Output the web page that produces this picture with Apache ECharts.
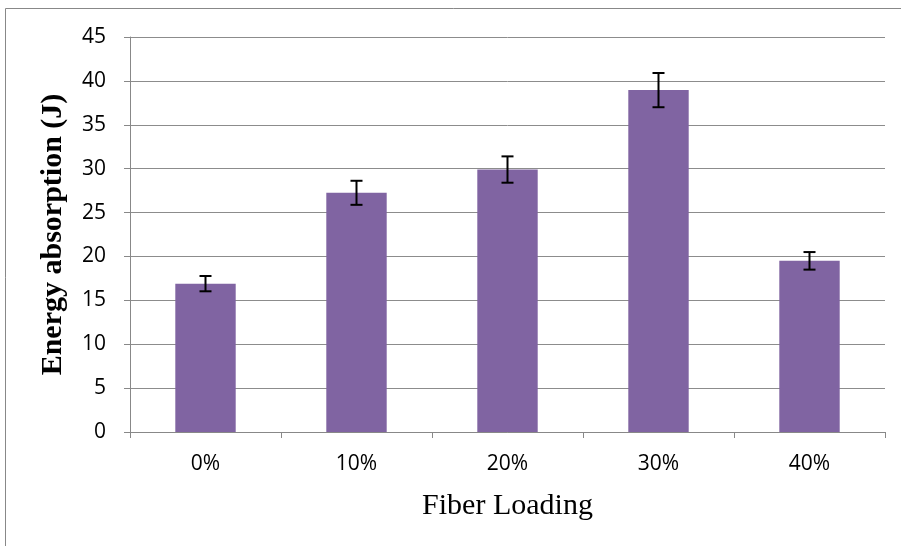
<!DOCTYPE html>
<html><head><meta charset="utf-8">
<script src="https://cdn.jsdelivr.net/npm/echarts@6/dist/echarts.min.js"></script>
<style>html,body{margin:0;padding:0;background:#fff}#c{width:901px;height:546px}</style>
</head><body><div id="c"></div>
<script>
const categories = ['0%', '10%', '20%', '30%', '40%'];
const values = [16.9, 27.25, 29.9, 38.95, 19.5];
const errors = [0.87, 1.37, 1.5, 1.95, 1.0];
const yTicks = [0, 5, 10, 15, 20, 25, 30, 35, 40, 45];

const chart = echarts.init(document.getElementById('c'));
const errData = categories.map((c, i) => [i, values[i] - errors[i], values[i] + errors[i]]);
chart.setOption({
  animation: false,
  graphic: [{type: 'polyline', shape: {points: [[5.5, 546], [5.5, 8.5], [901, 8.5]]}, style: {stroke: '#888', lineWidth: 1, fill: null}}],
  grid: {left: 130, right: 16, top: 37, bottom: 114},
  xAxis: {
    type: 'category', data: categories,
    name: 'Fiber Loading', nameLocation: 'middle', nameGap: 59,
    nameTextStyle: {fontFamily: 'Liberation Serif', fontSize: 30, color: '#000', verticalAlign: 'top'},
    axisLine: {lineStyle: {color: '#888'}},
    axisTick: {show: true, length: 6, lineStyle: {color: '#888'}},
    axisLabel: {fontFamily: 'Open Sans', fontSize: 21, color: '#000', margin: 22}
  },
  yAxis: {
    type: 'value', min: 0, max: 45, interval: 5,
    name: 'Energy absorption (J)', nameLocation: 'middle', nameGap: 62, nameRotate: 90,
    nameTextStyle: {fontFamily: 'Liberation Serif', fontSize: 30, fontWeight: 'bold', color: '#000'},
    axisLine: {show: true, lineStyle: {color: '#888'}},
    axisTick: {show: true, length: 6, lineStyle: {color: '#888'}},
    splitLine: {lineStyle: {color: '#8c8c8c'}},
    axisLabel: {fontFamily: 'Open Sans', fontSize: 21, color: '#000', margin: 24,
      formatter: v => yTicks.includes(v) ? String(v) : ''}
  },
  series: [
    {type: 'bar', data: values, barWidth: '40%', itemStyle: {color: '#8064A2'}},
    {type: 'custom', data: errData, z: 10,
      renderItem: (params, api) => {
        const x = api.value(0);
        const lo = api.coord([x, api.value(1)]);
        const hi = api.coord([x, api.value(2)]);
        const w = 6;
        const st = {stroke: '#000', lineWidth: 2};
        return {type: 'group', children: [
          {type: 'line', shape: {x1: lo[0], y1: lo[1], x2: hi[0], y2: hi[1]}, style: st},
          {type: 'line', shape: {x1: lo[0] - w, y1: lo[1], x2: lo[0] + w, y2: lo[1]}, style: st},
          {type: 'line', shape: {x1: hi[0] - w, y1: hi[1], x2: hi[0] + w, y2: hi[1]}, style: st}
        ]};
      }}
  ]
});
</script></body></html>
